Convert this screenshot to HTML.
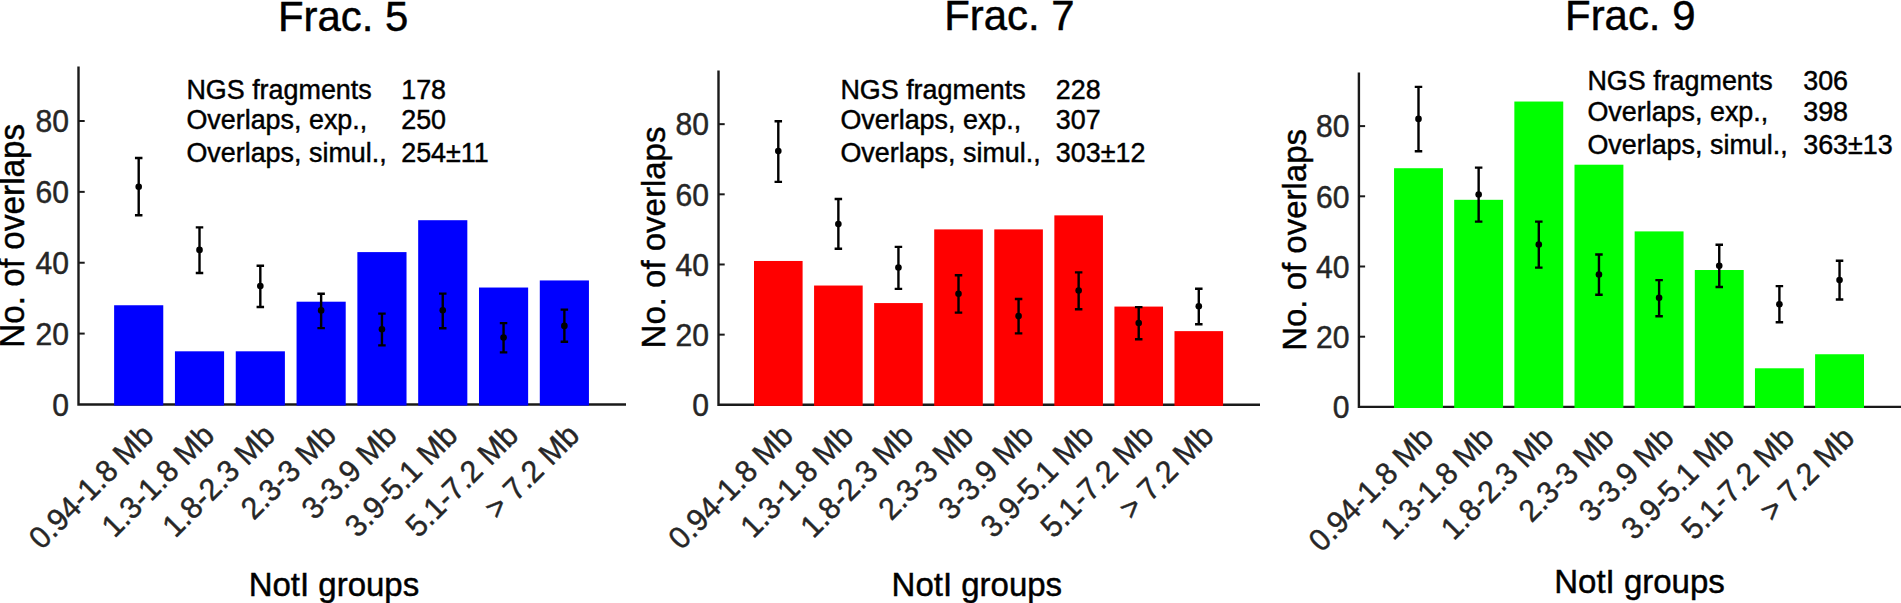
<!DOCTYPE html>
<html><head><meta charset="utf-8"><title>Overlaps</title>
<style>
html,body{margin:0;padding:0;background:#fff;}
body{width:1901px;height:603px;overflow:hidden;}
svg{display:block;}
svg text{font-family:"Liberation Sans", sans-serif;stroke-width:0.45px;paint-order:stroke fill;}
.tk{font-size:30.1px;fill:#262626;stroke:#262626;}
.lab{font-size:33px;fill:#000;stroke:#000;}
.ttl{font-size:41.9px;fill:#000;stroke:#000;}
.ann{font-size:26.9px;fill:#000;stroke:#000;}
</style></head><body>
<svg width="1901" height="603" viewBox="0 0 1901 603">
<rect width="1901" height="603" fill="#fff"/>
<g>
<path d="M78.50 66.40 V404.45 H626.00" fill="none" stroke="#1a1a1a" stroke-width="2.4" stroke-linejoin="miter"/>
<text class="tk" text-anchor="end" transform="translate(69.00 415.75) scale(1 1.032)">0</text>
<line x1="78.50" y1="333.59" x2="84.70" y2="333.59" stroke="#1a1a1a" stroke-width="2"/>
<text class="tk" text-anchor="end" transform="translate(69.00 344.89) scale(1 1.032)">20</text>
<line x1="78.50" y1="262.73" x2="84.70" y2="262.73" stroke="#1a1a1a" stroke-width="2"/>
<text class="tk" text-anchor="end" transform="translate(69.00 274.03) scale(1 1.032)">40</text>
<line x1="78.50" y1="191.87" x2="84.70" y2="191.87" stroke="#1a1a1a" stroke-width="2"/>
<text class="tk" text-anchor="end" transform="translate(69.00 203.17) scale(1 1.032)">60</text>
<line x1="78.50" y1="121.01" x2="84.70" y2="121.01" stroke="#1a1a1a" stroke-width="2"/>
<text class="tk" text-anchor="end" transform="translate(69.00 132.31) scale(1 1.032)">80</text>
<rect x="114.12" y="305.25" width="49.15" height="100.30" fill="#0000ff"/>
<rect x="174.94" y="351.31" width="49.15" height="54.25" fill="#0000ff"/>
<rect x="235.75" y="351.31" width="49.15" height="54.25" fill="#0000ff"/>
<rect x="296.56" y="301.70" width="49.15" height="103.85" fill="#0000ff"/>
<rect x="357.37" y="252.10" width="49.15" height="153.45" fill="#0000ff"/>
<rect x="418.18" y="220.21" width="49.15" height="185.34" fill="#0000ff"/>
<rect x="478.99" y="287.53" width="49.15" height="118.02" fill="#0000ff"/>
<rect x="539.79" y="280.44" width="49.15" height="125.11" fill="#0000ff"/>
<path d="M138.70 157.90 V215.30 M134.95 158.00 H142.45 M134.95 215.30 H142.45" stroke="#000" stroke-width="2.4" fill="none"/>
<circle cx="138.70" cy="186.70" r="3.3" fill="#000"/>
<path d="M199.51 227.30 V273.00 M195.76 227.40 H203.26 M195.76 273.00 H203.26" stroke="#000" stroke-width="2.4" fill="none"/>
<circle cx="199.51" cy="249.90" r="3.3" fill="#000"/>
<path d="M260.32 265.60 V307.00 M256.57 265.70 H264.07 M256.57 307.00 H264.07" stroke="#000" stroke-width="2.4" fill="none"/>
<circle cx="260.32" cy="286.00" r="3.3" fill="#000"/>
<path d="M321.13 293.70 V328.10 M317.38 293.80 H324.88 M317.38 328.10 H324.88" stroke="#000" stroke-width="2.4" fill="none"/>
<circle cx="321.13" cy="310.40" r="3.3" fill="#000"/>
<path d="M381.94 313.50 V345.40 M378.19 313.60 H385.69 M378.19 345.40 H385.69" stroke="#000" stroke-width="2.4" fill="none"/>
<circle cx="381.94" cy="329.20" r="3.3" fill="#000"/>
<path d="M442.75 293.50 V328.30 M439.00 293.60 H446.50 M439.00 328.30 H446.50" stroke="#000" stroke-width="2.4" fill="none"/>
<circle cx="442.75" cy="310.20" r="3.3" fill="#000"/>
<path d="M503.56 323.00 V352.40 M499.81 323.10 H507.31 M499.81 352.40 H507.31" stroke="#000" stroke-width="2.4" fill="none"/>
<circle cx="503.56" cy="337.60" r="3.3" fill="#000"/>
<path d="M564.37 309.50 V341.80 M560.62 309.60 H568.12 M560.62 341.80 H568.12" stroke="#000" stroke-width="2.4" fill="none"/>
<circle cx="564.37" cy="325.90" r="3.3" fill="#000"/>
<text class="tk" text-anchor="end" transform="translate(155.30 437.15) rotate(-45) scale(1 1.032)">0.94-1.8 Mb</text>
<text class="tk" text-anchor="end" transform="translate(216.11 437.15) rotate(-45) scale(1 1.032)">1.3-1.8 Mb</text>
<text class="tk" text-anchor="end" transform="translate(276.92 437.15) rotate(-45) scale(1 1.032)">1.8-2.3 Mb</text>
<text class="tk" text-anchor="end" transform="translate(337.73 437.15) rotate(-45) scale(1 1.032)">2.3-3 Mb</text>
<text class="tk" text-anchor="end" transform="translate(398.54 437.15) rotate(-45) scale(1 1.032)">3-3.9 Mb</text>
<text class="tk" text-anchor="end" transform="translate(459.35 437.15) rotate(-45) scale(1 1.032)">3.9-5.1 Mb</text>
<text class="tk" text-anchor="end" transform="translate(520.16 437.15) rotate(-45) scale(1 1.032)">5.1-7.2 Mb</text>
<text class="tk" text-anchor="end" transform="translate(580.97 437.15) rotate(-45) scale(1 1.032)">&gt; 7.2 Mb</text>
<text class="ttl" text-anchor="middle" transform="translate(343.15 30.60) scale(1 1.032)">Frac. 5</text>
<text class="lab" text-anchor="middle" transform="translate(333.95 595.70) scale(1 1.032)">NotI groups</text>
<text class="lab" text-anchor="middle" style="font-size:33.3px" transform="translate(24.30 235.75) rotate(-90) scale(1 1.032)">No. of overlaps</text>
<text class="ann" transform="translate(186.40 99.00) scale(1 1.032)">NGS fragments</text>
<text class="ann" transform="translate(401.20 99.00) scale(1 1.032)">178</text>
<text class="ann" transform="translate(186.40 128.50) scale(1 1.032)">Overlaps, exp.,</text>
<text class="ann" transform="translate(401.20 128.50) scale(1 1.032)">250</text>
<text class="ann" transform="translate(186.40 162.40) scale(1 1.032)">Overlaps, simul.,</text>
<text class="ann" transform="translate(401.20 162.40) scale(1 1.032)">254±11</text>
</g>
<g>
<path d="M718.50 70.50 V404.80 H1260.00" fill="none" stroke="#1a1a1a" stroke-width="2.4" stroke-linejoin="miter"/>
<text class="tk" text-anchor="end" transform="translate(709.00 416.10) scale(1 1.032)">0</text>
<line x1="718.50" y1="334.64" x2="724.70" y2="334.64" stroke="#1a1a1a" stroke-width="2"/>
<text class="tk" text-anchor="end" transform="translate(709.00 345.94) scale(1 1.032)">20</text>
<line x1="718.50" y1="264.48" x2="724.70" y2="264.48" stroke="#1a1a1a" stroke-width="2"/>
<text class="tk" text-anchor="end" transform="translate(709.00 275.78) scale(1 1.032)">40</text>
<line x1="718.50" y1="194.32" x2="724.70" y2="194.32" stroke="#1a1a1a" stroke-width="2"/>
<text class="tk" text-anchor="end" transform="translate(709.00 205.62) scale(1 1.032)">60</text>
<line x1="718.50" y1="124.16" x2="724.70" y2="124.16" stroke="#1a1a1a" stroke-width="2"/>
<text class="tk" text-anchor="end" transform="translate(709.00 135.46) scale(1 1.032)">80</text>
<rect x="754.00" y="260.97" width="48.60" height="144.93" fill="#ff0000"/>
<rect x="814.07" y="285.53" width="48.60" height="120.37" fill="#ff0000"/>
<rect x="874.14" y="303.07" width="48.60" height="102.83" fill="#ff0000"/>
<rect x="934.21" y="229.40" width="48.60" height="176.50" fill="#ff0000"/>
<rect x="994.28" y="229.40" width="48.60" height="176.50" fill="#ff0000"/>
<rect x="1054.35" y="215.37" width="48.60" height="190.53" fill="#ff0000"/>
<rect x="1114.42" y="306.58" width="48.60" height="99.32" fill="#ff0000"/>
<rect x="1174.49" y="331.13" width="48.60" height="74.77" fill="#ff0000"/>
<path d="M778.30 121.20 V181.90 M774.55 121.30 H782.05 M774.55 181.90 H782.05" stroke="#000" stroke-width="2.4" fill="none"/>
<circle cx="778.30" cy="151.10" r="3.3" fill="#000"/>
<path d="M838.37 198.90 V248.70 M834.62 199.00 H842.12 M834.62 248.70 H842.12" stroke="#000" stroke-width="2.4" fill="none"/>
<circle cx="838.37" cy="224.10" r="3.3" fill="#000"/>
<path d="M898.44 246.80 V288.90 M894.69 246.90 H902.19 M894.69 288.90 H902.19" stroke="#000" stroke-width="2.4" fill="none"/>
<circle cx="898.44" cy="267.50" r="3.3" fill="#000"/>
<path d="M958.51 275.20 V312.60 M954.76 275.30 H962.26 M954.76 312.60 H962.26" stroke="#000" stroke-width="2.4" fill="none"/>
<circle cx="958.51" cy="293.80" r="3.3" fill="#000"/>
<path d="M1018.58 298.90 V333.40 M1014.83 299.00 H1022.33 M1014.83 333.40 H1022.33" stroke="#000" stroke-width="2.4" fill="none"/>
<circle cx="1018.58" cy="316.10" r="3.3" fill="#000"/>
<path d="M1078.65 272.30 V309.30 M1074.90 272.40 H1082.40 M1074.90 309.30 H1082.40" stroke="#000" stroke-width="2.4" fill="none"/>
<circle cx="1078.65" cy="290.50" r="3.3" fill="#000"/>
<path d="M1138.72 307.00 V339.20 M1134.97 307.10 H1142.47 M1134.97 339.20 H1142.47" stroke="#000" stroke-width="2.4" fill="none"/>
<circle cx="1138.72" cy="323.00" r="3.3" fill="#000"/>
<path d="M1198.79 288.70 V324.30 M1195.04 288.80 H1202.54 M1195.04 324.30 H1202.54" stroke="#000" stroke-width="2.4" fill="none"/>
<circle cx="1198.79" cy="306.20" r="3.3" fill="#000"/>
<text class="tk" text-anchor="end" transform="translate(794.90 437.50) rotate(-45) scale(1 1.032)">0.94-1.8 Mb</text>
<text class="tk" text-anchor="end" transform="translate(854.97 437.50) rotate(-45) scale(1 1.032)">1.3-1.8 Mb</text>
<text class="tk" text-anchor="end" transform="translate(915.04 437.50) rotate(-45) scale(1 1.032)">1.8-2.3 Mb</text>
<text class="tk" text-anchor="end" transform="translate(975.11 437.50) rotate(-45) scale(1 1.032)">2.3-3 Mb</text>
<text class="tk" text-anchor="end" transform="translate(1035.18 437.50) rotate(-45) scale(1 1.032)">3-3.9 Mb</text>
<text class="tk" text-anchor="end" transform="translate(1095.25 437.50) rotate(-45) scale(1 1.032)">3.9-5.1 Mb</text>
<text class="tk" text-anchor="end" transform="translate(1155.32 437.50) rotate(-45) scale(1 1.032)">5.1-7.2 Mb</text>
<text class="tk" text-anchor="end" transform="translate(1215.39 437.50) rotate(-45) scale(1 1.032)">&gt; 7.2 Mb</text>
<text class="ttl" text-anchor="middle" transform="translate(1009.45 30.30) scale(1 1.032)">Frac. 7</text>
<text class="lab" text-anchor="middle" transform="translate(976.85 595.70) scale(1 1.032)">NotI groups</text>
<text class="lab" text-anchor="middle" transform="translate(665.30 237.50) rotate(-90) scale(1 1.032)">No. of overlaps</text>
<text class="ann" transform="translate(840.40 99.00) scale(1 1.032)">NGS fragments</text>
<text class="ann" transform="translate(1055.80 99.00) scale(1 1.032)">228</text>
<text class="ann" transform="translate(840.40 128.50) scale(1 1.032)">Overlaps, exp.,</text>
<text class="ann" transform="translate(1055.80 128.50) scale(1 1.032)">307</text>
<text class="ann" transform="translate(840.40 161.60) scale(1 1.032)">Overlaps, simul.,</text>
<text class="ann" transform="translate(1055.80 161.60) scale(1 1.032)">303±12</text>
</g>
<g>
<path d="M1358.90 72.50 V406.90 H1901.00" fill="none" stroke="#1a1a1a" stroke-width="2.4" stroke-linejoin="miter"/>
<text class="tk" text-anchor="end" transform="translate(1349.40 418.20) scale(1 1.032)">0</text>
<line x1="1358.90" y1="336.70" x2="1365.10" y2="336.70" stroke="#1a1a1a" stroke-width="2"/>
<text class="tk" text-anchor="end" transform="translate(1349.40 348.00) scale(1 1.032)">20</text>
<line x1="1358.90" y1="266.50" x2="1365.10" y2="266.50" stroke="#1a1a1a" stroke-width="2"/>
<text class="tk" text-anchor="end" transform="translate(1349.40 277.80) scale(1 1.032)">40</text>
<line x1="1358.90" y1="196.30" x2="1365.10" y2="196.30" stroke="#1a1a1a" stroke-width="2"/>
<text class="tk" text-anchor="end" transform="translate(1349.40 207.60) scale(1 1.032)">60</text>
<line x1="1358.90" y1="126.10" x2="1365.10" y2="126.10" stroke="#1a1a1a" stroke-width="2"/>
<text class="tk" text-anchor="end" transform="translate(1349.40 137.40) scale(1 1.032)">80</text>
<rect x="1394.05" y="168.22" width="48.90" height="239.78" fill="#00ff00"/>
<rect x="1454.20" y="199.81" width="48.90" height="208.19" fill="#00ff00"/>
<rect x="1514.35" y="101.53" width="48.90" height="306.47" fill="#00ff00"/>
<rect x="1574.50" y="164.71" width="48.90" height="243.29" fill="#00ff00"/>
<rect x="1634.65" y="231.40" width="48.90" height="176.60" fill="#00ff00"/>
<rect x="1694.80" y="270.01" width="48.90" height="137.99" fill="#00ff00"/>
<rect x="1754.95" y="368.29" width="48.90" height="39.71" fill="#00ff00"/>
<rect x="1815.10" y="354.25" width="48.90" height="53.75" fill="#00ff00"/>
<path d="M1418.50 86.80 V151.20 M1414.75 86.90 H1422.25 M1414.75 151.20 H1422.25" stroke="#000" stroke-width="2.4" fill="none"/>
<circle cx="1418.50" cy="118.90" r="3.3" fill="#000"/>
<path d="M1478.65 167.50 V221.60 M1474.90 167.60 H1482.40 M1474.90 221.60 H1482.40" stroke="#000" stroke-width="2.4" fill="none"/>
<circle cx="1478.65" cy="194.50" r="3.3" fill="#000"/>
<path d="M1538.80 221.50 V267.60 M1535.05 221.60 H1542.55 M1535.05 267.60 H1542.55" stroke="#000" stroke-width="2.4" fill="none"/>
<circle cx="1538.80" cy="244.50" r="3.3" fill="#000"/>
<path d="M1598.95 254.40 V294.70 M1595.20 254.50 H1602.70 M1595.20 294.70 H1602.70" stroke="#000" stroke-width="2.4" fill="none"/>
<circle cx="1598.95" cy="274.50" r="3.3" fill="#000"/>
<path d="M1659.10 280.00 V316.20 M1655.35 280.10 H1662.85 M1655.35 316.20 H1662.85" stroke="#000" stroke-width="2.4" fill="none"/>
<circle cx="1659.10" cy="297.80" r="3.3" fill="#000"/>
<path d="M1719.25 244.60 V287.00 M1715.50 244.70 H1723.00 M1715.50 287.00 H1723.00" stroke="#000" stroke-width="2.4" fill="none"/>
<circle cx="1719.25" cy="265.70" r="3.3" fill="#000"/>
<path d="M1779.40 286.00 V322.30 M1775.65 286.10 H1783.15 M1775.65 322.30 H1783.15" stroke="#000" stroke-width="2.4" fill="none"/>
<circle cx="1779.40" cy="304.20" r="3.3" fill="#000"/>
<path d="M1839.55 260.60 V299.50 M1835.80 260.70 H1843.30 M1835.80 299.50 H1843.30" stroke="#000" stroke-width="2.4" fill="none"/>
<circle cx="1839.55" cy="280.10" r="3.3" fill="#000"/>
<text class="tk" text-anchor="end" transform="translate(1435.10 439.60) rotate(-45) scale(1 1.032)">0.94-1.8 Mb</text>
<text class="tk" text-anchor="end" transform="translate(1495.25 439.60) rotate(-45) scale(1 1.032)">1.3-1.8 Mb</text>
<text class="tk" text-anchor="end" transform="translate(1555.40 439.60) rotate(-45) scale(1 1.032)">1.8-2.3 Mb</text>
<text class="tk" text-anchor="end" transform="translate(1615.55 439.60) rotate(-45) scale(1 1.032)">2.3-3 Mb</text>
<text class="tk" text-anchor="end" transform="translate(1675.70 439.60) rotate(-45) scale(1 1.032)">3-3.9 Mb</text>
<text class="tk" text-anchor="end" transform="translate(1735.85 439.60) rotate(-45) scale(1 1.032)">3.9-5.1 Mb</text>
<text class="tk" text-anchor="end" transform="translate(1796.00 439.60) rotate(-45) scale(1 1.032)">5.1-7.2 Mb</text>
<text class="tk" text-anchor="end" transform="translate(1856.15 439.60) rotate(-45) scale(1 1.032)">&gt; 7.2 Mb</text>
<text class="ttl" text-anchor="middle" transform="translate(1630.25 30.30) scale(1 1.032)">Frac. 9</text>
<text class="lab" text-anchor="middle" transform="translate(1639.50 593.40) scale(1 1.032)">NotI groups</text>
<text class="lab" text-anchor="middle" transform="translate(1305.60 239.90) rotate(-90) scale(1 1.032)">No. of overlaps</text>
<text class="ann" transform="translate(1587.40 90.30) scale(1 1.032)">NGS fragments</text>
<text class="ann" transform="translate(1803.20 90.30) scale(1 1.032)">306</text>
<text class="ann" transform="translate(1587.40 120.90) scale(1 1.032)">Overlaps, exp.,</text>
<text class="ann" transform="translate(1803.20 120.90) scale(1 1.032)">398</text>
<text class="ann" transform="translate(1587.40 153.90) scale(1 1.032)">Overlaps, simul.,</text>
<text class="ann" transform="translate(1803.20 153.90) scale(1 1.032)">363±13</text>
</g>
</svg>
</body></html>
